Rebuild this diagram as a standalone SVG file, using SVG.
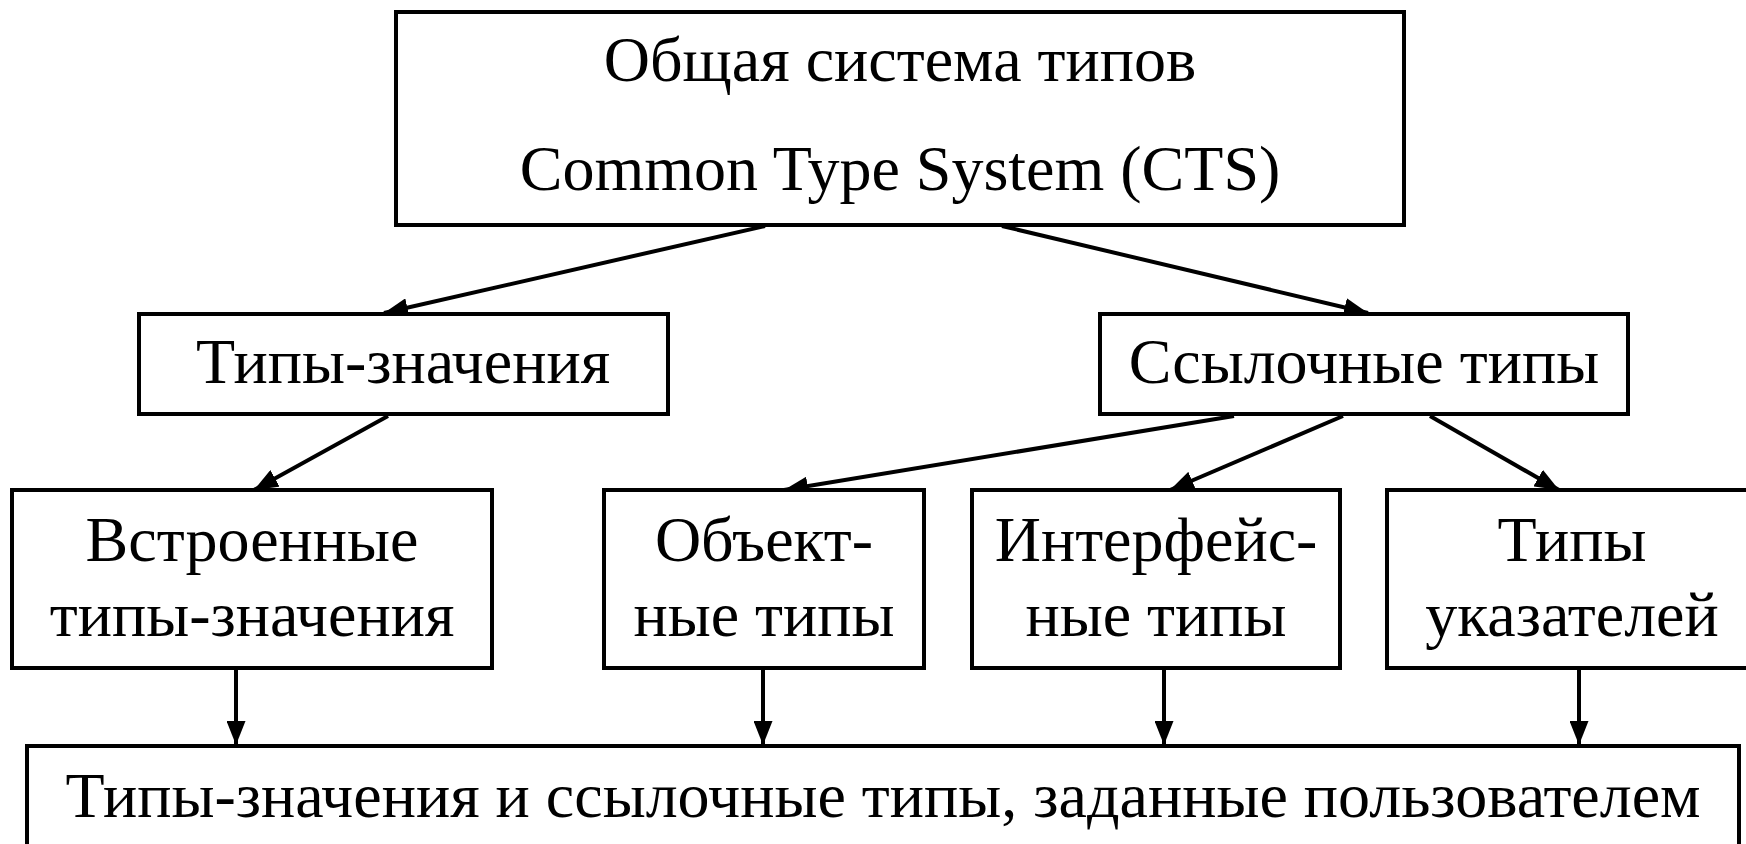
<svg xmlns="http://www.w3.org/2000/svg" width="1746" height="844" viewBox="0 0 1746 844">
  <defs>
    <marker id="arrow" markerUnits="userSpaceOnUse" markerWidth="24" markerHeight="19" viewBox="0 0 24 19" refX="24" refY="9.5" orient="auto">
      <path d="M0,0 L24,9.5 L0,19 Z" fill="#000"/>
    </marker>
    <style>
      .box { fill: #fff; stroke: #000; stroke-width: 4; }
      .lbl { font-family: "Liberation Serif", "Times New Roman", serif; font-size: 64px; fill: #000; text-anchor: middle; }
      .edge { stroke: #000; stroke-width: 4; fill: none; marker-end: url(#arrow); }
    </style>
  </defs>
  <rect width="1746" height="844" fill="#fff"/>

  <g id="connectors">
    <line class="edge" x1="765" y1="226" x2="384" y2="313"/>
    <line class="edge" x1="1002" y1="226" x2="1368" y2="313"/>
    <line class="edge" x1="388" y1="416" x2="254" y2="490"/>
    <line class="edge" x1="1234" y1="416" x2="784" y2="490"/>
    <line class="edge" x1="1343" y1="416" x2="1170" y2="490"/>
    <line class="edge" x1="1430" y1="416" x2="1559" y2="490"/>
    <line class="edge" x1="236" y1="668" x2="236" y2="745"/>
    <line class="edge" x1="763" y1="668" x2="763" y2="745"/>
    <line class="edge" x1="1164" y1="668" x2="1164" y2="745"/>
    <line class="edge" x1="1579" y1="668" x2="1579" y2="745"/>
  </g>

  <g id="cts">
    <rect class="box" x="396" y="12" width="1008" height="213"/>
    <text class="lbl" x="900" y="81">Общая система типов</text>
    <text class="lbl" x="900" y="190">Common Type System (CTS)</text>
  </g>

  <g id="value-types">
    <rect class="box" x="139" y="314" width="529" height="100"/>
    <text class="lbl" x="403" y="383">Типы-значения</text>
  </g>

  <g id="reference-types">
    <rect class="box" x="1100" y="314" width="528" height="100"/>
    <text class="lbl" x="1364" y="383">Ссылочные типы</text>
  </g>

  <g id="builtin-value-types">
    <rect class="box" x="12" y="490" width="480" height="178"/>
    <text class="lbl" x="252" y="561">Встроенные</text>
    <text class="lbl" x="252" y="636">типы-значения</text>
  </g>

  <g id="object-types">
    <rect class="box" x="604" y="490" width="320" height="178"/>
    <text class="lbl" x="764" y="561">Объект-</text>
    <text class="lbl" x="764" y="636">ные типы</text>
  </g>

  <g id="interface-types">
    <rect class="box" x="972" y="490" width="368" height="178"/>
    <text class="lbl" x="1156" y="561">Интерфейс-</text>
    <text class="lbl" x="1156" y="636">ные типы</text>
  </g>

  <g id="pointer-types">
    <rect class="box" x="1387" y="490" width="364" height="178"/>
    <text class="lbl" x="1572" y="561">Типы</text>
    <text class="lbl" x="1572" y="636">указателей</text>
  </g>

  <g id="user-defined-types">
    <rect class="box" x="27" y="746" width="1712" height="110"/>
    <text class="lbl" x="883" y="817">Типы-значения и ссылочные типы, заданные пользователем</text>
  </g>
</svg>
